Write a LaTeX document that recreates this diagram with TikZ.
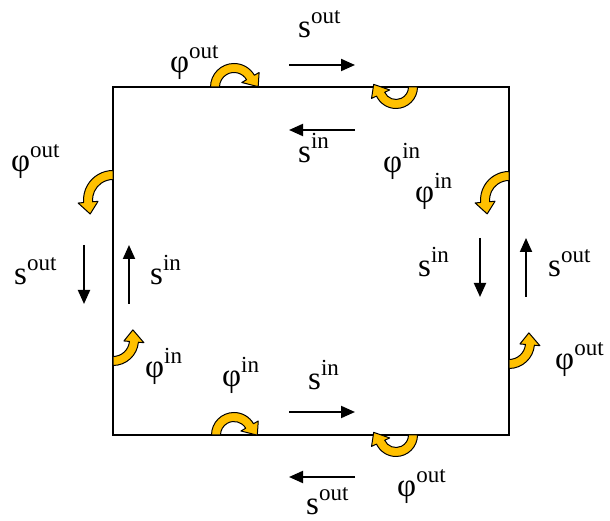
\documentclass[tikz,border=0pt]{standalone}
\usepackage{fontspec}
\setmainfont{Liberation Serif}
\usetikzlibrary{arrows.meta,calc}
\definecolor{curlgold}{RGB}{255,192,0}
\newcommand\upper[1]{\raisebox{0.43em}{\fontsize{23}{23}\selectfont #1}}
\newcommand\curl[5]{% centre, radius, start, end, tip direction
  \pgfmathsetmacro\ro{#2+4.5}\pgfmathsetmacro\ri{#2-4.5}%
  \pgfmathsetmacro\hro{#2+10}\pgfmathsetmacro\hri{#2-10}%
  \filldraw[curlarrow] ($(#1)+(#3:\ro)$) arc[start angle=#3,end angle=#4,radius=\ro]
    -- ($(#1)+(#4:\hro)$) -- ($(#1)+(#4:#2)+(#5:12)$) -- ($(#1)+(#4:\hri)$)
    -- ($(#1)+(#4:\ri)$) arc[start angle=#4,end angle=#3,radius=\ri] -- cycle;}
\tikzset{
  lbl/.style={anchor=base west,inner sep=0pt,font=\fontsize{33}{33}\selectfont},
  flow/.style={line width=2pt,-{Triangle[length=14pt,width=12pt]}},
  curlarrow/.style={fill=curlgold,draw=black,line width=1pt,line join=round},
}
\begin{document}
\begin{tikzpicture}[x=1pt,y=1pt]
\useasboundingbox (0,0) rectangle (610,521);
\coordinate (sw) at (113,86);
\coordinate (ne) at (509,434);
\draw[line width=1.8pt] (sw) rectangle (ne);
% curled arrows
\curl{234,434}{19}{180}{30}{-50}
\curl{396,434}{17}{0}{-155}{125}
\curl{113,321}{25}{90}{185}{280}
\curl{509,321}{24}{90}{185}{280}
\curl{113,181}{21}{-90}{-5}{95}
\curl{509,178}{21}{-90}{-5}{95}
\curl{234,86}{18}{180}{30}{-50}
\curl{396,86}{17}{0}{-155}{125}
% straight arrows
\coordinate (tOa) at (289,456); \coordinate (tOb) at (355,456);
\coordinate (tIa) at (355,391); \coordinate (tIb) at (289,391);
\coordinate (lOa) at (84,276);  \coordinate (lOb) at (84,217);
\coordinate (lIa) at (129,217); \coordinate (lIb) at (129,276);
\coordinate (rIa) at (480,283); \coordinate (rIb) at (480,224);
\coordinate (rOa) at (526,224); \coordinate (rOb) at (526,283);
\coordinate (bIa) at (289,109); \coordinate (bIb) at (355,109);
\coordinate (bOa) at (355,44);  \coordinate (bOb) at (289,44);
\draw[flow] (tOa) -- (tOb);
\draw[flow] (tIa) -- (tIb);
\draw[flow] (lOa) -- (lOb);
\draw[flow] (lIa) -- (lIb);
\draw[flow] (rIa) -- (rIb);
\draw[flow] (rOa) -- (rOb);
\draw[flow] (bIa) -- (bIb);
\draw[flow] (bOa) -- (bOb);
% labels
\node[lbl] (phiTL) at (170,448) {φ\upper{out}};
\node[lbl] (sTO) at (298,483) {s\upper{out}};
\node[lbl] (sTI) at (298,358) {s\upper{in}};
\node[lbl] (phiTR) at (383,348) {φ\upper{in}};
\node[lbl] (phiL) at (11,349) {φ\upper{out}};
\node[lbl] (phiR) at (415,318) {φ\upper{in}};
\node[lbl] (sLO) at (14,236) {s\upper{out}};
\node[lbl] (sLI) at (150,236) {s\upper{in}};
\node[lbl] (sRI) at (418,244) {s\upper{in}};
\node[lbl] (sRO) at (548,244) {s\upper{out}};
\node[lbl] (phiLB) at (145,143) {φ\upper{in}};
\node[lbl] (phiRB) at (555,151) {φ\upper{out}};
\node[lbl] (phiB) at (222,134) {φ\upper{in}};
\node[lbl] (sBI) at (308,131) {s\upper{in}};
\node[lbl] (phiBR) at (397,24) {φ\upper{out}};
\node[lbl] (sBO) at (306,6) {s\upper{out}};
\end{tikzpicture}
\end{document}
